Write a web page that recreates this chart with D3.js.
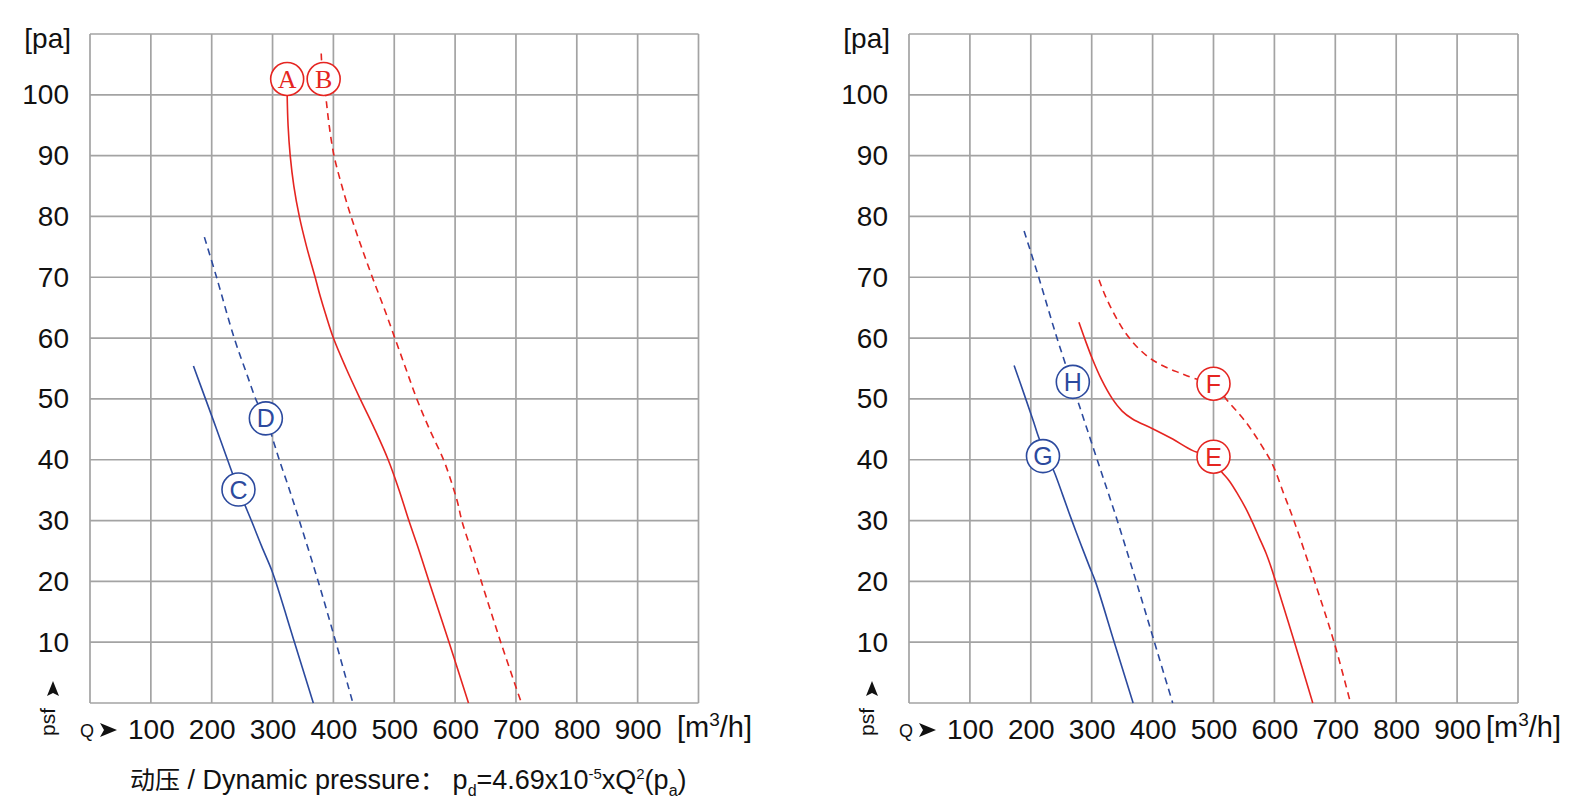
<!DOCTYPE html>
<html>
<head>
<meta charset="utf-8">
<script src="https://cdn.jsdelivr.net/npm/d3@7"></script>
<style>
  body { margin: 0; background: #fff; }
  text { fill: #111; }
</style>
</head>
<body>
<svg id="chart" width="1577" height="810"></svg>
<script>
// axis ticks
const flowTicks = [100, 200, 300, 400, 500, 600, 700, 800, 900];
const pressureTicks = [10, 20, 30, 40, 50, 60, 70, 80, 90, 100];

// left panel curves, [Q m3/h, psf pa]
const curveA = [[324, 100], [325.5, 95], [329, 90], [335, 85], [344, 80], [356, 75], [370, 70], [378, 67], [387, 64], [400, 60], [421, 55], [444, 50], [468, 45], [490, 40], [508, 35], [524, 30], [541, 25], [557, 20], [590, 10], [622, 0]];
const curveB = [[380, 106.8], [381, 105], [387.5, 99.7], [393, 95], [401, 90], [414, 85], [429, 80], [446, 75], [464, 70], [483, 65], [501, 60], [519, 55], [537, 50], [558, 45], [581, 40], [595, 36], [604, 33], [611, 30], [627, 25], [643, 20], [675, 10], [709, 0]];
const curveC = [[170, 55.4], [188, 50.5], [207, 45.3], [226, 40], [244, 35.1], [256, 32.2], [266, 29.8], [282, 25.8], [298, 22], [305, 20], [336, 10], [367, 0]];
const curveD = [[188, 76.6], [208, 70], [237, 60], [258, 54], [274, 49.6], [289, 46.8], [300, 43.5], [311, 40], [328, 35], [344, 30], [375, 20], [404, 10], [432, 0]];

// right panel curves
const curveE = [[279, 62.6], [290, 59.5], [301, 56.6], [316, 53.2], [334, 50], [350, 48], [367, 46.7], [400, 45.1], [433, 43.4], [466, 41.5], [500, 40.3], [512, 38.2], [526, 36.5], [540, 34.3], [553, 32], [564, 29.7], [575, 27.2], [586, 24.7], [595, 22.2], [602, 20], [633, 10], [663, 0]];
const curveF = [[312, 69.6], [320, 67.5], [330, 65.3], [341, 63.2], [353, 61.2], [366, 59.5], [380, 58], [400, 56.4], [422, 55.2], [444, 54.3], [468, 53.4], [500, 52.5], [523, 49.7], [553, 46.2], [586, 41.2], [598, 39], [615, 34.5], [632, 30], [666, 20], [698, 10], [725, 0]];
const curveG = [[172.6, 55.5], [190, 50.5], [204, 46.4], [214, 43.4], [229, 40.2], [240, 37.6], [252, 34.3], [266, 30.4], [281, 26.4], [296, 22.5], [306, 20], [337, 10], [368, 0]];
const curveH = [[189, 77.6], [213, 70], [243, 60], [276, 50], [309, 40], [342, 30], [373, 20], [403, 10], [433, 0]];

// circled curve names, [name, Q, psf]
const namesLeft = [["A", 324, 102.6], ["B", 384, 102.6], ["C", 244, 35.1], ["D", 289, 46.8]];
const namesRight = [["E", 500, 40.5], ["F", 500, 52.5], ["G", 220, 40.6], ["H", 269, 52.8]];

const colors = {
  red: "#e52521",
  blue: "#2c4a9e",
  grid: "#a3a3a3",
};

const sans = "Liberation Sans, Arial, Helvetica, sans-serif";
const serif = "Liberation Serif, Times New Roman, serif";

const svg = d3.select("#chart").style("font-family", sans);
const yTop = 34, yBottom = 703;

class FanPanel {
  constructor(left, right, unitX, serifNames) {
    this.x = d3.scaleLinear().domain([0, 1000]).range([left, right]);
    this.y = d3.scaleLinear().domain([0, 110]).range([yBottom, yTop]);
    this.left = left;
    this.unitX = unitX;
    this.serifNames = serifNames;
    this.g = svg.append("g");
  }

  draw(curves, names) {
    this._drawGrid();
    this._drawLabels();
    curves.forEach((c) => this._drawCurve(c));
    names.forEach((n, i) => this._drawName(n, curves[i].color, this.serifNames.includes(n[0])));
  }

  _drawGrid() {
    const x = this.x, y = this.y;
    const grid = this.g.append("g")
      .attr("stroke", colors.grid)
      .attr("stroke-width", 1.7)
      .attr("fill", "none");

    grid.selectAll("line.v")
      .data(d3.range(0, 1001, 100))
      .join("line")
      .attr("x1", (d) => x(d)).attr("x2", (d) => x(d))
      .attr("y1", y(0)).attr("y2", y(110));

    grid.selectAll("line.h")
      .data(d3.range(0, 111, 10))
      .join("line")
      .attr("x1", x(0)).attr("x2", x(1000))
      .attr("y1", (d) => y(d)).attr("y2", (d) => y(d));
  }

  _drawLabels() {
    const x = this.x, y = this.y;

    // y tick labels
    const yAxis = this.g.append("g")
      .attr("transform", `translate(${this.left},0)`)
      .call(d3.axisLeft(y).tickValues(pressureTicks).tickSize(0).tickPadding(21));
    yAxis.select(".domain").remove();
    yAxis.selectAll("text")
      .attr("font-size", 28)
      .attr("font-family", sans)
      .attr("fill", "#111");

    // x tick labels
    const xAxis = this.g.append("g")
      .attr("transform", `translate(0,${yBottom})`)
      .call(d3.axisBottom(x).tickValues(flowTicks).tickSize(0).tickPadding(16));
    xAxis.select(".domain").remove();
    xAxis.selectAll("text")
      .attr("font-size", 28)
      .attr("font-family", sans)
      .attr("fill", "#111");

    // [pa]
    this.g.append("text")
      .attr("x", this.left - 19)
      .attr("y", 48)
      .attr("text-anchor", "end")
      .attr("font-size", 28)
      .text("[pa]");

    // [m3/h]
    const unit = this.g.append("text")
      .attr("x", this.unitX)
      .attr("y", 737)
      .attr("font-size", 29)
      .text("[m");
    unit.append("tspan").attr("dy", -11).attr("font-size", 19).text("3");
    unit.append("tspan").attr("dy", 11).text("/h]");

    // Q with arrow
    const qx = this.left - 10;
    this.g.append("text")
      .attr("x", qx)
      .attr("y", 737)
      .attr("font-size", 18)
      .text("Q");
    this.g.append("path")
      .attr("d", `M${qx + 20},${723} L${qx + 37},${730} L${qx + 20},${737} L${qx + 24},${730} Z`)
      .attr("fill", "#111");

    // psf with arrow, rotated
    const px = this.left - 42;
    this.g.append("text")
      .attr("transform", `translate(${px + 7},${736}) rotate(-90)`)
      .attr("font-size", 21)
      .text("psf");
    this.g.append("path")
      .attr("d", `M${px - 1},${696} L${px + 5},${681} L${px + 11},${696} L${px + 5},${693} Z`)
      .attr("fill", "#111");
  }

  _drawCurve(c) {
    const line = d3.line()
      .x((d) => this.x(d[0]))
      .y((d) => this.y(d[1]))
      .curve(d3.curveCatmullRom.alpha(0.5));

    this.g.append("path")
      .datum(c.data)
      .attr("d", line)
      .attr("fill", "none")
      .attr("stroke", c.color)
      .attr("stroke-width", 1.6)
      .attr("stroke-dasharray", c.dashed ? "7,5" : null);
  }

  _drawName(n, color, isSerif) {
    const cx = this.x(n[1]), cy = this.y(n[2]);
    this.g.append("circle")
      .attr("cx", cx).attr("cy", cy).attr("r", 16.5)
      .attr("fill", "#fff")
      .attr("stroke", color)
      .attr("stroke-width", 1.6);
    this.g.append("text")
      .attr("x", cx).attr("y", cy)
      .attr("dy", "0.36em")
      .attr("text-anchor", "middle")
      .attr("font-size", isSerif ? 26 : 25)
      .style("font-family", isSerif ? serif : sans)
      .style("fill", color)
      .text(n[0]);
  }
}

const leftCurves = [
  { data: curveA, color: colors.red, dashed: false },
  { data: curveB, color: colors.red, dashed: true },
  { data: curveC, color: colors.blue, dashed: false },
  { data: curveD, color: colors.blue, dashed: true },
];
const rightCurves = [
  { data: curveE, color: colors.red, dashed: false },
  { data: curveF, color: colors.red, dashed: true },
  { data: curveG, color: colors.blue, dashed: false },
  { data: curveH, color: colors.blue, dashed: true },
];

new FanPanel(90, 698.5, 677, ["A", "B"]).draw(leftCurves, namesLeft);
new FanPanel(909, 1518, 1486, []).draw(rightCurves, namesRight);

// dynamic pressure note under the left panel
const note = svg.append("text")
  .attr("x", 130)
  .attr("y", 789)
  .attr("font-size", 27);
note.append("tspan").attr("font-family", "Noto Sans CJK SC, sans-serif").attr("font-size", 25).text("动压");
note.append("tspan").text(" / Dynamic pressure");
note.append("tspan").attr("font-family", "Noto Sans CJK SC, sans-serif").attr("font-size", 25).text("：");
note.append("tspan").text(" p");
note.append("tspan").attr("font-size", 16).attr("dy", 7).text("d");
note.append("tspan").attr("dy", -7).text("=4.69x10");
note.append("tspan").attr("font-size", 15).attr("dy", -10).text("-5");
note.append("tspan").attr("dy", 10).text("xQ");
note.append("tspan").attr("font-size", 15).attr("dy", -10).text("2");
note.append("tspan").attr("dy", 10).text("(p");
note.append("tspan").attr("font-size", 16).attr("dy", 7).text("a");
note.append("tspan").attr("dy", -7).text(")");
</script>
</body>
</html>
